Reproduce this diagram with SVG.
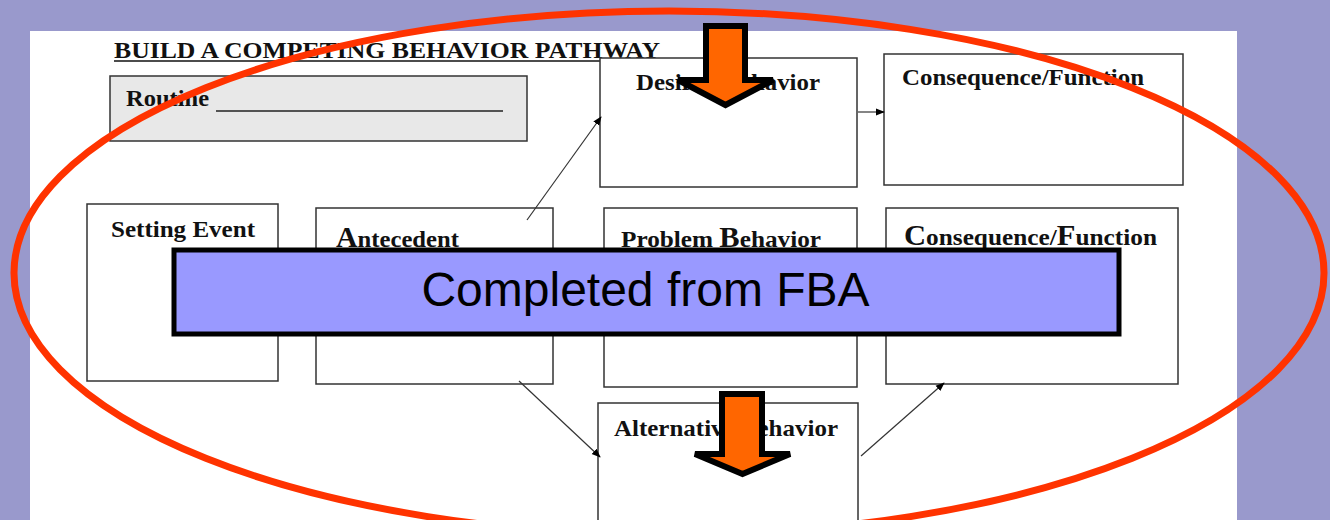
<svg xmlns="http://www.w3.org/2000/svg" width="1330" height="520" viewBox="0 0 1330 520">
<style>
.box{fill:#ffffff;stroke:#333333;stroke-width:1.5}
.lbl{font-family:"Liberation Serif","Times New Roman",serif;font-weight:bold;font-size:24px;fill:#111111}
.big{font-size:29px}
.conn{stroke:#333333;stroke-width:1.2;fill:none;marker-end:url(#ah)}
.orange{fill:#ff6600;stroke:#000000;stroke-width:6;stroke-linejoin:miter}
</style>
<defs>
<marker id="ah" viewBox="0 0 10 10" refX="9" refY="5" markerWidth="9" markerHeight="9" markerUnits="userSpaceOnUse" orient="auto">
<path d="M0,1 L10,5 L0,9 z" fill="#000000"/>
</marker>
</defs>
<rect x="0" y="0" width="1330" height="520" fill="#9999cc"/>
<rect x="30" y="31" width="1207" height="489" fill="#ffffff"/>
<g id="title">
<text class="lbl" x="114" y="58" font-size="24" textLength="546" lengthAdjust="spacingAndGlyphs">BUILD A COMPETING BEHAVIOR PATHWAY</text>
<line x1="114" y1="61" x2="660" y2="61" stroke="#111111" stroke-width="1.5"/>
</g>
<g id="routine">
<rect x="110" y="76" width="417" height="65" fill="#e8e8e8" stroke="#333333" stroke-width="1.5"/>
<text class="lbl" x="126" y="106" textLength="83" lengthAdjust="spacingAndGlyphs">Routine</text>
<line x1="216" y1="111" x2="503" y2="111" stroke="#222222" stroke-width="1.5"/>
</g>
<g id="desired">
<rect class="box" x="600" y="58" width="257" height="129"/>
<text class="lbl" x="636" y="90" textLength="184" lengthAdjust="spacingAndGlyphs">Desired Behavior</text>
</g>
<g id="consequence-top">
<rect class="box" x="884" y="54" width="299" height="131"/>
<text class="lbl" x="902" y="85" textLength="242" lengthAdjust="spacingAndGlyphs">Consequence/Function</text>
</g>
<g id="setting">
<rect class="box" x="87" y="204" width="191" height="177"/>
<text class="lbl" x="111" y="237" textLength="144" lengthAdjust="spacingAndGlyphs">Setting Event</text>
</g>
<g id="antecedent">
<rect class="box" x="316" y="208" width="237" height="176"/>
<text class="lbl" x="336" y="247" textLength="123" lengthAdjust="spacingAndGlyphs"><tspan class="big">A</tspan>ntecedent</text>
</g>
<g id="problem">
<rect class="box" x="604" y="208" width="253" height="179"/>
<text class="lbl" x="621" y="247" textLength="200" lengthAdjust="spacingAndGlyphs">Problem <tspan class="big">B</tspan>ehavior</text>
</g>
<g id="consequence-bottom">
<rect class="box" x="886" y="208" width="292" height="176"/>
<text class="lbl" x="904" y="245" textLength="253" lengthAdjust="spacingAndGlyphs"><tspan class="big">C</tspan>onsequence/<tspan class="big">F</tspan>unction</text>
</g>
<g id="alternative">
<rect class="box" x="598" y="403" width="260" height="130"/>
<text class="lbl" x="614" y="436" textLength="224" lengthAdjust="spacingAndGlyphs">Alternative Behavior</text>
</g>
<g id="connectors">
<line class="conn" x1="858" y1="112" x2="884" y2="112" stroke="#999999"/>
<line class="conn" x1="527" y1="220" x2="601" y2="117"/>
<line class="conn" x1="519" y1="381" x2="600" y2="457"/>
<line class="conn" x1="861" y1="456" x2="944" y2="383"/>
</g>
<ellipse id="red-ellipse" cx="669" cy="273" rx="655" ry="262" fill="none" stroke="#ff3300" stroke-width="7"/>
<g id="arrow-top">
<polygon class="orange" points="706,26 745,26 745,80 773,80 725.5,105 678,80 706,80"/>
</g>
<g id="arrow-bottom">
<polygon class="orange" points="722,394 762,394 762,454 790,454 742.5,474 695,454 722,454"/>
</g>
<g id="banner">
<rect x="174" y="250" width="945" height="84" fill="#9999ff" stroke="#000000" stroke-width="5"/>
<text x="645.5" y="306" text-anchor="middle" font-family="Liberation Sans, Arial, sans-serif" font-size="48" fill="#000000">Completed from FBA</text>
</g>
</svg>
